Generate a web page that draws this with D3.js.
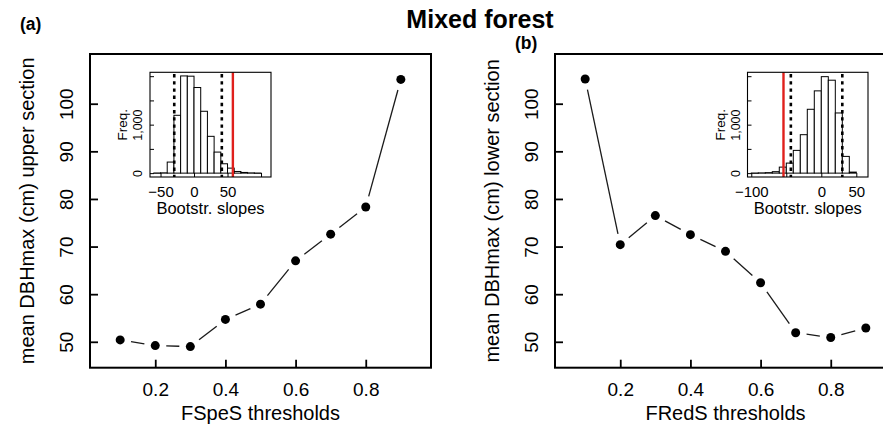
<!DOCTYPE html>
<html>
<head>
<meta charset="utf-8">
<script src="https://cdn.jsdelivr.net/npm/d3@7"></script>
<style>
  body { margin: 0; background: #fff; }
  svg { display: block; font-family: "Liberation Sans", Arial, Helvetica, sans-serif; }
</style>
</head>
<body>
<svg width="883" height="446"></svg>
<script>
// main panels
var thresholds = [0.1, 0.2, 0.3, 0.4, 0.5, 0.6, 0.7, 0.8, 0.9];
var upperDBH = [50.4, 49.2, 49.0, 54.7, 57.9, 67.0, 72.6, 78.3, 105.1];
var lowerDBH = [105.2, 70.4, 76.5, 72.5, 69.0, 62.4, 51.9, 50.9, 52.9];
var mainYTicks = [50, 60, 70, 80, 90, 100];
var mainXTicks = [0.2, 0.4, 0.6, 0.8];

// insets: bootstrapped slopes
var breaksA = [-60, -50, -40, -30, -20, -10, 0, 10, 20, 30, 40, 50, 60, 70, 80, 90, 100];
var countsA = [3, 6, 228, 1193, 2005, 2000, 1766, 1276, 759, 434, 193, 103, 34, 14, 5, 2];
var ciA = [-29.5, 41.5];
var obsA = 58;
var insetXTicksA = [-50, 0, 50, 100];
var insetXLabelsA = ["\u221250", "0", "50", ""];

var breaksB = [-100, -90, -80, -70, -60, -50, -40, -30, -20, -10, 0, 10, 20, 30, 40, 50];
var countsB = [2, 5, 10, 30, 124, 207, 469, 793, 1317, 1697, 1990, 1917, 1241, 345, 21];
var ciB = [-43.5, 30];
var obsB = -54;
var insetXTicksB = [-100, -50, 0, 50];
var insetXLabelsB = ["\u2212100", "", "0", "50"];

var insetYTicks = [0, 500, 1000, 1500, 2000];
var insetYLabels = ["0", "", "1,000", "", ""];

var svg = d3.select("svg");

function main() {
    svg.append("text")
       .attr("x", 480).attr("y", 27.5)
       .attr("text-anchor", "middle")
       .attr("font-size", "25px").attr("font-weight", "bold")
       .text("Mixed forest");

    drawPanel({ left: 90, tag: "(a)", tagX: 20, tagY: 30, values: upperDBH,
                ylab: "mean DBHmax (cm) upper section", xlab: "FSpeS thresholds" });
    drawPanel({ left: 555, tag: "(b)", tagX: 515, tagY: 48.5, values: lowerDBH,
                ylab: "mean DBHmax (cm) lower section", xlab: "FRedS thresholds" });

    drawInset({ x0: 150, x1: 271, xDomain: [-65.7, 114.9], breaks: breaksA, counts: countsA,
                ci: ciA, obs: obsA, xTicks: insetXTicksA, xLabels: insetXLabelsA });
    drawInset({ x0: 747.5, x1: 868, xDomain: [-105.4, 66.7], breaks: breaksB, counts: countsB,
                ci: ciB, obs: obsB, xTicks: insetXTicksB, xLabels: insetXLabelsB });
}

function drawPanel(cfg) {
    var x = d3.scaleLinear().domain([0.014, 0.986]).range([cfg.left, cfg.left + 341]),
        y = d3.scaleLinear().domain([44.56, 110.44]).range([367.7, 54]);
    var g = svg.append("g");

    g.append("text")
     .attr("x", cfg.tagX).attr("y", cfg.tagY)
     .attr("font-size", "17.5px").attr("font-weight", "bold")
     .text(cfg.tag);

    // y axis, ticks pointing inward
    var ya = g.append("g")
     .attr("transform", "translate(" + cfg.left + ",0)")
     .call(d3.axisLeft(y).tickValues(mainYTicks).tickSizeInner(-8).tickSizeOuter(0).tickFormat(d3.format("d")));
    ya.select(".domain").remove();
    ya.attr("font-size", "19px").attr("font-family", null);
    ya.selectAll("line").attr("stroke-width", 1.8);
    ya.selectAll("text")
      .attr("x", null).attr("dy", null)
      .attr("text-anchor", "middle")
      .attr("transform", "translate(-17,0) rotate(-90)");

    var xa = g.append("g")
     .attr("transform", "translate(0,367.7)")
     .call(d3.axisBottom(x).tickValues(mainXTicks).tickSizeInner(-8).tickSizeOuter(0).tickFormat(d3.format(".1f")));
    xa.select(".domain").remove();
    xa.attr("font-size", "19px").attr("font-family", null);
    xa.selectAll("line").attr("stroke-width", 1.8);
    xa.selectAll("text").attr("y", 28.5).attr("dy", null);

    g.append("rect")
     .attr("x", x.range()[0]).attr("y", y.range()[1])
     .attr("width", x.range()[1] - x.range()[0])
     .attr("height", y.range()[0] - y.range()[1])
     .attr("fill", "none").attr("stroke", "#000").attr("stroke-width", 2);

    g.append("text")
     .attr("x", (x.range()[0] + x.range()[1]) / 2).attr("y", 419.5)
     .attr("text-anchor", "middle").attr("font-size", "20px")
     .text(cfg.xlab);

    g.append("text")
     .attr("transform", "translate(" + (cfg.left - 56) + "," + ((y.range()[0] + y.range()[1]) / 2) + ") rotate(-90)")
     .attr("text-anchor", "middle").attr("font-size", "20px")
     .text(cfg.ylab);

    // type = "b": segments with gaps around the points
    var pts = thresholds.map(function(t, i) { return [x(t), y(cfg.values[i])]; });
    var gap = 11;
    g.selectAll(".seg")
     .data(d3.pairs(pts))
     .enter().append("line")
     .attr("class", "seg")
     .each(function(p) {
        var dx = p[1][0] - p[0][0], dy = p[1][1] - p[0][1],
            len = Math.sqrt(dx * dx + dy * dy), ux = dx / len, uy = dy / len;
        d3.select(this)
          .attr("x1", p[0][0] + ux * gap).attr("y1", p[0][1] + uy * gap)
          .attr("x2", p[1][0] - ux * gap).attr("y2", p[1][1] - uy * gap);
     })
     .attr("stroke", "#1a1a1a").attr("stroke-width", 1.3);

    g.selectAll(".pt")
     .data(pts)
     .enter().append("circle")
     .attr("class", "pt")
     .attr("cx", function(d) { return d[0]; })
     .attr("cy", function(d) { return d[1]; })
     .attr("r", 4.5)
     .attr("fill", "#000");
}

function drawInset(cfg) {
    var ix = d3.scaleLinear().domain(cfg.xDomain).range([cfg.x0, cfg.x1]),
        iy = d3.scaleLinear().domain([-80, 2080]).range([177, 72.3]);
    var g = svg.append("g");

    g.append("rect")
     .attr("x", cfg.x0).attr("y", 72.3)
     .attr("width", cfg.x1 - cfg.x0).attr("height", 177 - 72.3)
     .attr("fill", "#fff");

    g.selectAll(".bar")
     .data(cfg.counts)
     .enter().append("rect")
     .attr("class", "bar")
     .attr("x", function(d, i) { return ix(cfg.breaks[i]); })
     .attr("width", function(d, i) { return ix(cfg.breaks[i + 1]) - ix(cfg.breaks[i]); })
     .attr("y", function(d) { return iy(d); })
     .attr("height", function(d) { return Math.max(iy(0) - iy(d), 0.3); })
     .attr("fill", "#fff").attr("stroke", "#000").attr("stroke-width", 1);

    g.selectAll(".ci")
     .data(cfg.ci)
     .enter().append("line")
     .attr("x1", function(d) { return ix(d); }).attr("x2", function(d) { return ix(d); })
     .attr("y1", 74).attr("y2", 177)
     .attr("stroke", "#000").attr("stroke-width", 2.6)
     .attr("stroke-dasharray", "3.4,3.8");

    g.append("line")
     .attr("x1", ix(cfg.obs)).attr("x2", ix(cfg.obs))
     .attr("y1", 72.3).attr("y2", 177)
     .attr("stroke", "#e0201c").attr("stroke-width", 2.4);

    var xa = g.append("g")
     .attr("transform", "translate(0,177)")
     .call(d3.axisBottom(ix).tickValues(cfg.xTicks).tickSizeInner(-4).tickSizeOuter(0)
             .tickFormat(function(d, i) { return cfg.xLabels[i]; }));
    xa.select(".domain").remove();
    xa.attr("font-size", "15px").attr("font-family", null);
    xa.selectAll("text").attr("y", 19.5).attr("dy", null);

    var ya = g.append("g")
     .attr("transform", "translate(" + cfg.x0 + ",0)")
     .call(d3.axisLeft(iy).tickValues(insetYTicks).tickSizeInner(-4).tickSizeOuter(0)
             .tickFormat(function(d, i) { return insetYLabels[i]; }));
    ya.select(".domain").remove();
    ya.attr("font-size", "12.5px").attr("font-family", null);
    ya.selectAll("text")
      .attr("x", null).attr("dy", null)
      .attr("text-anchor", "middle")
      .attr("transform", "translate(-8,0) rotate(-90)");

    g.append("rect")
     .attr("x", cfg.x0).attr("y", 72.3)
     .attr("width", cfg.x1 - cfg.x0).attr("height", 177 - 72.3)
     .attr("fill", "none").attr("stroke", "#000").attr("stroke-width", 1.1);

    g.append("text")
     .attr("transform", "translate(" + (cfg.x0 - 23) + "," + ((72.3 + 177) / 2) + ") rotate(-90)")
     .attr("text-anchor", "middle").attr("font-size", "13.5px")
     .text("Freq.");

    g.append("text")
     .attr("x", (cfg.x0 + cfg.x1) / 2).attr("y", 213.5)
     .attr("text-anchor", "middle").attr("font-size", "16.5px")
     .text("Bootstr. slopes");
}

main();
</script>
</body>
</html>
